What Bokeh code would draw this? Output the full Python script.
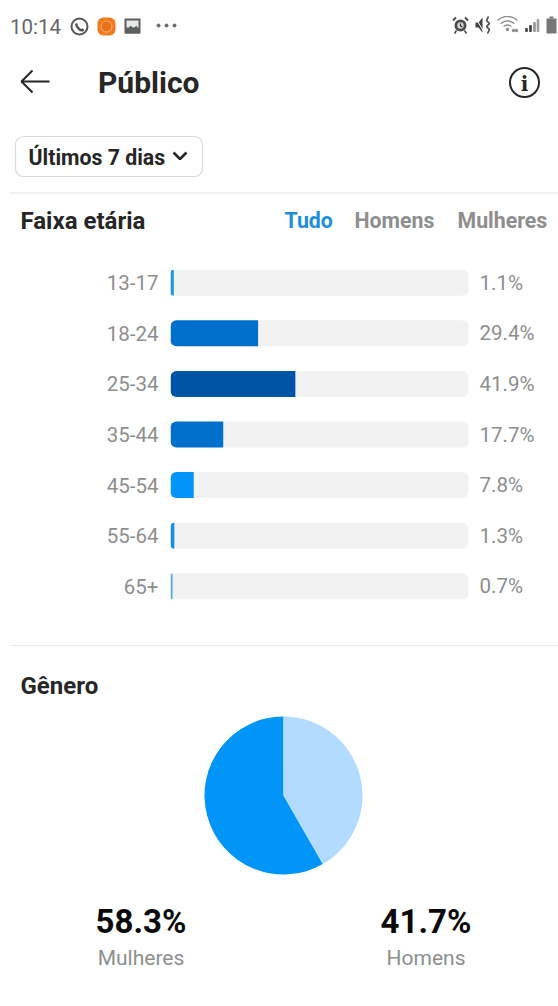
import numpy as np
from bokeh.core.properties import value
from bokeh.embed import file_html
from bokeh.layouts import column, row
from bokeh.models import ColumnDataSource, FactorRange, Range1d
from bokeh.plotting import figure
from bokeh.resources import INLINE

AGE_GROUPS = ["13-17", "18-24", "25-34", "35-44", "45-54", "55-64", "65+"]
AGE_SHARES = [1.1, 29.4, 41.9, 17.7, 7.8, 1.3, 0.7]
AGE_COLORS = ["#1b96e6", "#0070cc", "#0054a6", "#0070cc", "#0095f6", "#1a8fe2", "#56aee9"]
GENDER_LABELS = ["Mulheres", "Homens"]
GENDER_SHARES = [58.3, 41.7]
GENDER_COLORS = ["#0095f6", "#b3dbff"]
TABS = ["Tudo", "Homens", "Mulheres"]

FONT = value("Roboto")
INK = "#262626"
MUTED = "#8e8e8e"
WIDTH = 558
TOP_H, BARS_H = 257, 354
BOTTOM_H = 1006 - TOP_H - BARS_H
BAR_LEFT, TRACK_WIDTH = 170, 298


def blank(height, y_range):
    fig = figure(width=WIDTH, height=height, x_range=Range1d(0, WIDTH), y_range=y_range,
                 output_backend="svg", toolbar_location=None, min_border=0,
                 outline_line_color=None, x_axis_type=None, y_axis_type=None)
    fig.grid.visible = False
    return fig


def put(fig, x, y, text, size, color=INK, style="normal", align="left", font=FONT):
    fig.text([x], [y], text=[text], text_font=font, text_font_size=f"{size}px",
             text_font_style=style, text_color=color, text_align=align, text_baseline="middle")


# Status bar, page header, period selector and age section heading
top = blank(TOP_H, Range1d(TOP_H, 0))
put(top, 9.5, 26.5, "10:14", 20.5, "#666666")

# messaging icon
top.circle([79], [26], radius=8, fill_color=None, line_color="#555555", line_width=2)
top.line([75.5, 76.5, 79, 82, 83], [23, 26, 29, 30, 28.5], line_color="#555555", line_width=2.4)
# recorder icon
top.quad(left=[97], right=[115], top=[17], bottom=[35], fill_color="#f07b1f", line_color=None,
         border_radius=6)
top.circle([106], [26], radius=5.5, fill_color="#e8701a", line_color="#ffc79c", line_width=0.8)
# gallery icon
top.quad(left=[124], right=[140], top=[18], bottom=[33], fill_color="#5f5f5f", line_color=None)
top.quad(left=[126], right=[138], top=[20], bottom=[27], fill_color="#e8e8e8", line_color=None)
top.patch([125, 130, 133, 136, 139], [33, 25, 28, 25, 33], fill_color="#5f5f5f", line_color=None)
# overflow dots
top.scatter([158, 166, 174], [25, 25, 25], size=3, color="#666666")

# alarm icon
top.circle([460], [25], radius=6, fill_color="#4a4a4a", line_color=None)
top.circle([460], [25], radius=3.2, fill_color="#d8d8d8", line_color=None)
top.line([460, 460, 462], [23, 25.5, 26.5], line_color="#333333", line_width=1.2)
top.multi_line([[452.5, 455.5], [467.5, 464.5]], [[20, 17], [20, 17]], line_color="#4a4a4a", line_width=2)
top.multi_line([[456, 454], [464, 466]], [[30, 33], [30, 33]], line_color="#4a4a4a", line_width=1.6)
# muted speaker icon
top.patch([475, 478, 482, 482, 478, 475], [22, 22, 17, 32, 27, 27], fill_color="#444444", line_color=None)
top.line([475, 483], [17, 31], line_color="#ffffff", line_width=1)
top.line([488, 486, 489, 486, 489, 487], [16, 20, 23, 26, 29, 33], line_color="#444444", line_width=1.6)
# wifi icon
for r, w in ((14, 1.3), (9.5, 1.3), (5.5, 1.3)):
    a = np.radians(np.linspace(225, 315, 14))
    top.line(507 + r * np.cos(a), 30 + r * np.sin(a), line_color="#8a8a8a", line_width=w)
top.scatter([507, 513, 516], [29, 30, 30], size=2.5, color="#888888")
# signal bars
top.vbar(x=[526, 530, 534, 537.5], width=1.6, top=[28, 25, 22, 19], bottom=31,
         color=["#444444", "#444444", "#999999", "#999999"])
# battery
top.quad(left=[546], right=[556], top=[18], bottom=[33], fill_color="#777777", line_color=None)
top.quad(left=[549], right=[553], top=[16], bottom=[18], fill_color="#777777", line_color=None)

# back arrow, title and info button
top.line([21, 49], [81, 81], line_color=INK, line_width=2)
top.line([32, 21, 32], [70, 81, 92], line_color=INK, line_width=2)
put(top, 97.5, 82, "Público", 30, INK, "bold")
top.circle([524], [82], radius=14.5, fill_color=None, line_color=INK, line_width=2)
put(top, 524, 83, "i", 20, INK, "bold", "center", value("DejaVu Serif"))

# period selector
top.quad(left=[15], right=[202], top=[136], bottom=[176], fill_color="#ffffff", line_color="#dbdbdb",
         line_width=1.2, border_radius=8)
put(top, 28, 157, "Últimos 7 dias", 21.3, INK, "bold")
top.line([173, 179.5, 186], [152, 158.5, 152], line_color=INK, line_width=2.6)
top.line([10, WIDTH], [192.5, 192.5], line_color="#e3e3e3", line_width=1.2)

# heading with the audience tabs
put(top, 20, 220, "Faixa etária", 24, INK, "bold")
for tab, tab_x, tab_color in zip(TABS, (284, 354, 457), ("#1a8fe0", MUTED, MUTED)):
    put(top, tab_x, 220, tab, 21.3, tab_color, "bold")

# Age distribution bars: 0-100 spans the track, the rest of the frame holds the percentages
ages = ColumnDataSource(dict(age=AGE_GROUPS, share=AGE_SHARES, color=AGE_COLORS,
                             pos=[100] * len(AGE_GROUPS), label=[f"{v}%" for v in AGE_SHARES]))
bars = figure(width=WIDTH, height=BARS_H,
              x_range=Range1d(0, 100 * (WIDTH - BAR_LEFT) / TRACK_WIDTH),
              y_range=FactorRange(factors=AGE_GROUPS[::-1], factor_padding=0, range_padding=0),
              output_backend="svg", toolbar_location=None, outline_line_color=None,
              min_border_left=BAR_LEFT, min_border_right=0, min_border_top=0, min_border_bottom=0,
              x_axis_location=None)
bars.grid.visible = False
axis = bars.yaxis[0]
axis.axis_line_color = None
axis.major_tick_line_color = None
axis.minor_tick_line_color = None
axis.major_label_standoff = 6
axis.major_label_text_font = "Roboto"
axis.major_label_text_font_size = "20.5px"
axis.major_label_text_color = MUTED

bars.hbar(y="age", left=0, right="pos", height=0.514, source=ages, fill_color="#f2f2f2",
          line_color=None, border_radius=6)
bars.hbar(y="age", left=0, right="share", height=0.514, source=ages, fill_color="color",
          line_color=None, border_radius=(6, 0, 0, 6))
bars.text(x="pos", y="age", text="label", source=ages, x_offset=11, text_baseline="middle",
          text_font=FONT, text_font_size="20.5px", text_color=MUTED)

# Gender split: pie plus a caption per slice
bottom = blank(BOTTOM_H, Range1d(0, BOTTOM_H))
bottom.line([10, WIDTH], [361, 361], line_color="#e9e9e9", line_width=1.2)
put(bottom, 20, 321, "Gênero", 24, INK, "bold")

turns = np.cumsum([0.0] + GENDER_SHARES) / sum(GENDER_SHARES) * 2 * np.pi
bottom.wedge(x=283, y=211, radius=79, start_angle=np.pi / 2 + turns[:-1], end_angle=np.pi / 2 + turns[1:],
             direction="anticlock", fill_color=GENDER_COLORS, line_color=None)

for label, share, label_x in zip(GENDER_LABELS, GENDER_SHARES, (140.5, 425.5)):
    put(bottom, label_x, 85, f"{share}%", 33, "#0a0a0a", "bold", "center")
    put(bottom, label_x, 49, label, 21, MUTED, "normal", "center")

# Each figure sits in its own row so the three frames keep their own widths
page = column(row(top), row(bars), row(bottom), spacing=0)
open("out.html", "w").write(file_html(page, INLINE))
